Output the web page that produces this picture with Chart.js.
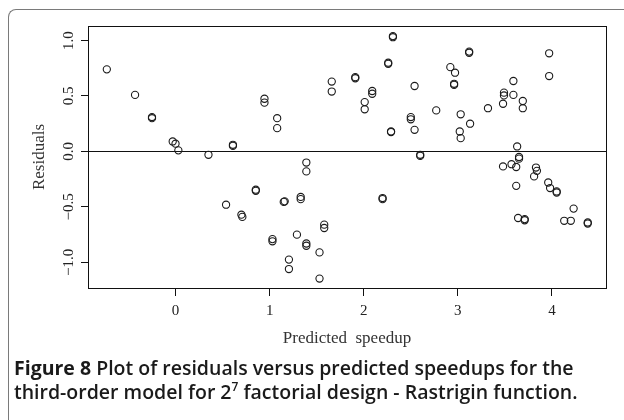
<!DOCTYPE html>
<html>
<head>
<meta charset="utf-8">
<script src="https://cdn.jsdelivr.net/npm/chart.js@4/dist/chart.umd.min.js"></script>
<style>
  html, body { margin: 0; padding: 0; background: #fff; }
  #wrap { position: relative; width: 624px; height: 420px; overflow: hidden; background: #fff; }
  #frame { position: absolute; left: 8px; top: 9px; width: 700px; height: 500px;
           border-left: 1.6px solid #7a7a7a; border-top: 1.6px solid #7a7a7a; border-top-left-radius: 8px; }
  canvas { position: absolute; left: 0; top: 0; }
  #caption { position: absolute; left: 14px; top: 356px; width: 610px;
             font-family: "Open Sans", "Noto Sans", sans-serif; font-weight: 600; font-size: 19.5px;
             line-height: 24px; color: #1a1a1a; letter-spacing: 0px; white-space: nowrap; }
  #caption b { font-weight: 700; }
  #caption sup { font-size: 12px; line-height: 0; position: relative; top: -1px; }
</style>
</head>
<body>
<div id="wrap">
  <div id="frame"></div>
  <canvas id="c" width="624" height="420"></canvas>
  <div id="caption"><b>Figure 8</b> Plot of residuals versus predicted speedups for the<br>third-order model for 2<sup>7</sup> factorial design - Rastrigin function.</div>
</div>
<script>
const predicted = [
  -0.73, -0.43, -0.25, -0.25, -0.03, 0.00, 0.03, 0.35, 0.61, 0.61,
  0.945, 0.945, 1.08, 1.08, 1.66, 1.66, 1.91, 1.91, 2.09, 2.09,
  2.01, 2.01, 2.26, 2.26, 2.31, 2.31, 2.54, 2.50, 2.50, 2.54,
  2.29, 2.29, 2.60, 2.60, 1.39, 1.39, 0.853, 0.853, 0.537, 0.70,
  0.71, 1.15, 1.16, 1.33, 1.33, 2.20, 2.20, 1.58, 1.58, 1.03,
  1.03, 1.29, 1.39, 1.39, 1.53, 1.205, 1.205, 1.53, 3.12, 3.12,
  2.92, 2.97, 2.96, 2.96, 2.77, 3.03, 3.13, 3.02, 3.03, 3.32,
  3.59, 3.49, 3.49, 3.59, 3.48, 3.69, 3.69, 3.97, 3.97, 3.63,
  3.65, 3.65, 3.48, 3.57, 3.62, 3.62, 3.83, 3.84, 3.81, 3.96,
  3.98, 4.05, 4.05, 4.23, 3.64, 3.71, 3.71, 4.13, 4.20, 4.38, 4.38
];
const residuals = [
  0.74, 0.51, 0.31, 0.30, 0.09, 0.07, 0.01, -0.03, 0.05, 0.06,
  0.475, 0.44, 0.30, 0.21, 0.63, 0.54, 0.66, 0.67, 0.545, 0.52,
  0.445, 0.38, 0.79, 0.80, 1.04, 1.03, 0.59, 0.31, 0.29, 0.195,
  0.175, 0.18, -0.03, -0.04, -0.10, -0.18, -0.355, -0.345, -0.48, -0.57,
  -0.59, -0.455, -0.45, -0.41, -0.43, -0.42, -0.43, -0.66, -0.69, -0.79,
  -0.81, -0.75, -0.83, -0.85, -0.91, -0.975, -1.06, -1.146, 0.90, 0.89,
  0.76, 0.71, 0.60, 0.61, 0.37, 0.335, 0.25, 0.18, 0.12, 0.39,
  0.635, 0.53, 0.505, 0.51, 0.43, 0.455, 0.39, 0.885, 0.68, 0.045,
  -0.05, -0.065, -0.135, -0.115, -0.14, -0.31, -0.145, -0.175, -0.225, -0.28,
  -0.33, -0.37, -0.36, -0.515, -0.60, -0.61, -0.62, -0.625, -0.625, -0.64, -0.65
];
const xTicks = [0, 1, 2, 3, 4];
const yTicks = [-1.0, -0.5, 0.0, 0.5, 1.0];
const xTitle = 'Predicted  speedup';
const yTitle = 'Residuals';

const points = predicted.map((x, i) => ({ x: x, y: residuals[i] }));
const serif = '"Liberation Serif", "DejaVu Serif", serif';

const boxPlugin = {
  id: 'boxPlugin',
  beforeDatasetsDraw(chart) {
    const { ctx, chartArea: a, scales } = chart;
    const y0 = scales.y.getPixelForValue(0);
    ctx.save();
    ctx.strokeStyle = '#111';
    ctx.lineWidth = 1;
    ctx.beginPath();
    ctx.moveTo(a.left, Math.round(y0) + 0.5);
    ctx.lineTo(a.right, Math.round(y0) + 0.5);
    ctx.stroke();
    ctx.restore();
  },
  afterDraw(chart) {
    const { ctx, chartArea: a } = chart;
    ctx.save();
    ctx.strokeStyle = '#111';
    ctx.lineWidth = 1;
    ctx.strokeRect(Math.round(a.left) + 0.5, Math.round(a.top) + 0.5,
                   Math.round(a.right - a.left), Math.round(a.bottom - a.top));
    ctx.restore();
  }
};

new Chart(document.getElementById('c'), {
  type: 'scatter',
  data: {
    datasets: [{
      data: points,
      pointStyle: 'circle',
      pointRadius: 3.6,
      pointHoverRadius: 3.6,
      borderColor: '#1a1a1a',
      backgroundColor: 'rgba(0,0,0,0)',
      borderWidth: 1.1
    }]
  },
  options: {
    responsive: false,
    animation: false,
    events: [],
    layout: { padding: { left: 29, right: 18, top: 26, bottom: 71 } },
    plugins: { legend: { display: false }, tooltip: { enabled: false } },
    scales: {
      x: {
        type: 'linear',
        position: 'bottom',
        min: -0.93,
        max: 4.574,
        afterFit(s) { s.height = 61; },
        afterBuildTicks(s) { s.ticks = xTicks.map(v => ({ value: v })); },
        ticks: {
          padding: 6,
          color: '#222',
          font: { family: serif, size: 15 },
          callback: v => String(v)
        },
        grid: { drawOnChartArea: false, drawTicks: true, tickLength: 8, color: '#111', lineWidth: 1 },
        border: { display: false },
        title: { display: true, text: xTitle, color: '#333', font: { family: serif, size: 17 }, padding: 0 }
      },
      y: {
        type: 'linear',
        position: 'left',
        min: -1.231,
        max: 1.131,
        afterFit(s) { s.width = 59; },
        afterBuildTicks(s) { s.ticks = yTicks.map(v => ({ value: v })); },
        ticks: {
          minRotation: 90,
          maxRotation: 90,
          crossAlign: 'center',
          padding: -2,
          color: '#222',
          font: { family: serif, size: 15 },
          callback: v => (v < 0 ? '\u2212' : '') + Math.abs(v).toFixed(1)
        },
        grid: { drawOnChartArea: false, drawTicks: true, tickLength: 7, color: '#111', lineWidth: 1 },
        border: { display: false },
        title: { display: true, text: yTitle, color: '#333', font: { family: serif, size: 17 }, padding: 0 }
      }
    }
  },
  plugins: [boxPlugin]
});
</script>
</body>
</html>
